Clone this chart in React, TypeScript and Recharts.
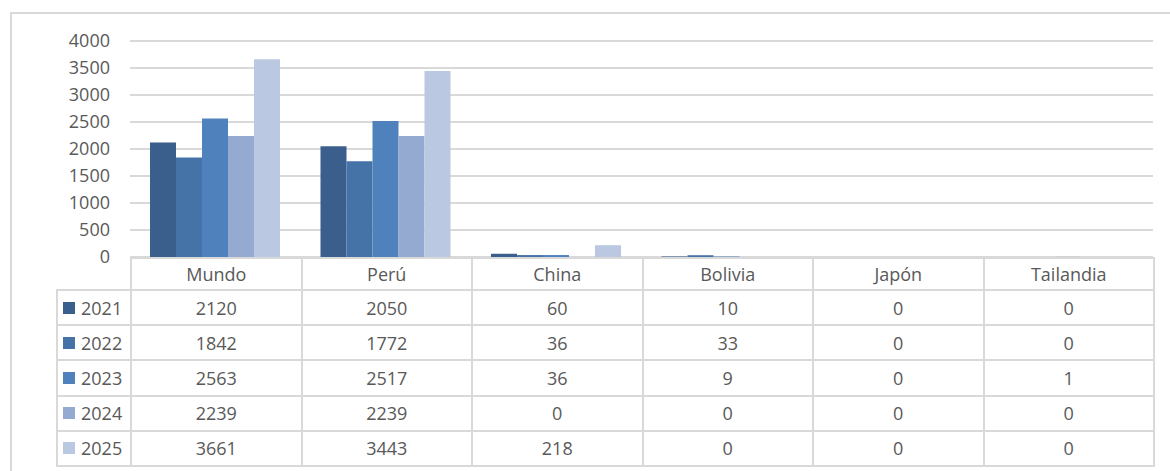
import React from 'react';
import { BarChart, Bar, XAxis, YAxis, CartesianGrid } from 'recharts';

const categories = ['Mundo', 'Perú', 'China', 'Bolivia', 'Japón', 'Tailandia'];
const years = ['2021', '2022', '2023', '2024', '2025'];
const v2021 = [2120, 2050, 60, 10, 0, 0];
const v2022 = [1842, 1772, 36, 33, 0, 0];
const v2023 = [2563, 2517, 36, 9, 0, 1];
const v2024 = [2239, 2239, 0, 0, 0, 0];
const v2025 = [3661, 3443, 218, 0, 0, 0];
const yTicks = [0, 500, 1000, 1500, 2000, 2500, 3000, 3500, 4000];

const seriesValues = [v2021, v2022, v2023, v2024, v2025];
const colors = ['#3b5f8d', '#4573a7', '#4f81bd', '#95aad1', '#bac8e1'];

const data = categories.map((name, i) => {
  const row: Record<string, string | number> = { name };
  years.forEach((y, k) => {
    row[y] = seriesValues[k][i];
  });
  return row;
});

// layout of the chart and the data table under it
const W = 1170;
const H = 471;
const plotLeft = 130;
const plotRight = 1153;
const plotTop = 41;
const plotBottom = 257;
const colW = (plotRight - plotLeft) / categories.length;
const headerH = 32;
const rowH = 35.2;
const legendLeft = 56;
const border = '#d9d9d9';
const textColor = '#595959';
const font = '"Open Sans", "DejaVu Sans", sans-serif';
const fontSize = 18;

function cellStyle(left: number, top: number, width: number, height: number): React.CSSProperties {
  return {
    position: 'absolute',
    left,
    top,
    width,
    height,
    boxSizing: 'border-box',
    border: `2px solid ${border}`,
    display: 'flex',
    alignItems: 'center',
    justifyContent: 'center',
  };
}

function DataTable() {
  const cells: React.ReactNode[] = [];
  // header row with the category names
  categories.forEach((c, i) => {
    cells.push(
      <div key={'h' + i} style={cellStyle(plotLeft + i * colW, plotBottom, colW + 2, headerH + 2)}>
        {c}
      </div>
    );
  });
  years.forEach((y, r) => {
    const top = plotBottom + headerH + r * rowH;
    cells.push(
      <div
        key={'l' + r}
        style={{
          ...cellStyle(legendLeft, top, plotLeft - legendLeft + 2, rowH + 2),
          justifyContent: 'flex-start',
          paddingLeft: 5,
        }}
      >
        <span
          style={{ display: 'inline-block', width: 12, height: 12, background: colors[r], marginRight: 6 }}
        />
        {y}
      </div>
    );
    seriesValues[r].forEach((v, i) => {
      cells.push(
        <div key={'c' + r + '-' + i} style={cellStyle(plotLeft + i * colW, top, colW + 2, rowH + 2)}>
          {v}
        </div>
      );
    });
  });
  return <>{cells}</>;
}

export default function App() {
  return (
    <div
      style={{
        position: 'absolute',
        left: 0,
        top: 0,
        width: W,
        height: H,
        background: '#fff',
        overflow: 'hidden',
        fontFamily: font,
        fontSize,
        color: textColor,
      }}
    >
      <div
        style={{
          position: 'absolute',
          left: 10,
          top: 12,
          width: W,
          height: H,
          borderLeft: `2px solid ${border}`,
          borderTop: `2px solid ${border}`,
        }}
      />
      <div style={{ position: 'absolute', left: 0, top: 0 }}>
        <BarChart
          width={W}
          height={H}
          data={data}
          margin={{ top: plotTop, right: W - plotRight, bottom: H - plotBottom, left: 0 }}
          barCategoryGap={20}
          barGap={0}
        >
          <CartesianGrid vertical={false} stroke={border} strokeWidth={2} />
          <XAxis dataKey="name" hide />
          <YAxis
            width={plotLeft}
            domain={[0, 4000]}
            ticks={yTicks}
            tickLine={false}
            axisLine={false}
            tickSize={0}
            tickMargin={20}
            tick={{ fill: textColor, fontSize, fontFamily: font }}
          />
          {years.map((y, k) => (
            <Bar key={y} dataKey={y} fill={colors[k]} isAnimationActive={false} />
          ))}
        </BarChart>
      </div>
      <DataTable />
    </div>
  );
}
